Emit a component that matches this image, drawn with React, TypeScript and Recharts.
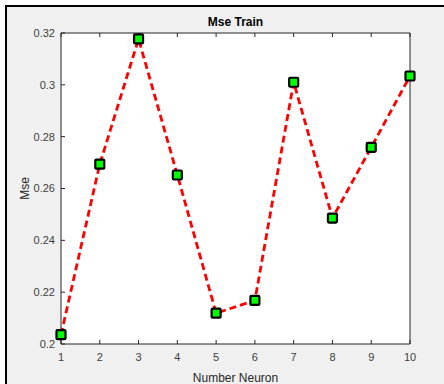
import React from "react";
import { LineChart, Line, XAxis, YAxis, CartesianGrid, Label } from "recharts";

const neurons = [1, 2, 3, 4, 5, 6, 7, 8, 9, 10];
const mseValues = [0.2036, 0.2694, 0.3177, 0.2652, 0.2119, 0.2168, 0.301, 0.2486, 0.2759, 0.3034];
const xTicks = [1, 2, 3, 4, 5, 6, 7, 8, 9, 10];
const yTicks = [0.2, 0.22, 0.24, 0.26, 0.28, 0.3, 0.32];

const data = neurons.map((n, i) => ({ n, mse: mseValues[i] }));

const AX = "#262626";
const FONT = "'Liberation Sans', Arial, Helvetica, sans-serif";

const SquareDot = (props: any) => {
  const { cx, cy, index } = props;
  if (cx == null || cy == null) return null;
  return (
    <rect
      key={`d${index}`}
      x={cx - 4.5}
      y={cy - 4.5}
      width={9}
      height={9}
      rx={1}
      fill="#00ff00"
      stroke="#000"
      strokeWidth={2.2}
    />
  );
};

const fmt = (v: number) => String(Number(v.toFixed(2)));
const blank = () => "";

export default function App() {
  return (
    <div style={{ position: "absolute", left: 0, top: 0, width: 444, height: 384, background: "#fff", overflow: "hidden" }}>
      <div
        style={{
          position: "absolute",
          left: 5,
          top: 5,
          width: 439,
          height: 379,
          background: "#f0f0f0",
          borderTop: "2px solid #000",
          borderLeft: "2px solid #000",
        }}
      />
      <div style={{ position: "absolute", left: 0, top: 0 }}>
        <LineChart
          width={444}
          height={384}
          data={data}
          margin={{ top: 32, right: 33, bottom: 0, left: 21 }}
          style={{ fontFamily: FONT }}
        >
          <CartesianGrid fill="#ffffff" horizontal={false} vertical={false} />
          <XAxis
            dataKey="n"
            type="number"
            domain={[1, 10]}
            ticks={xTicks}
            interval={0}
            height={40}
            stroke={AX}
            tickSize={-4}
            tickMargin={13}
            tick={{ fill: "#404040", fontSize: 11 }}
          >
            <Label value="Number Neuron" position="insideBottom" offset={2} fill={AX} fontSize={12} />
          </XAxis>
          <XAxis
            xAxisId="top"
            dataKey="n"
            type="number"
            domain={[1, 10]}
            ticks={xTicks}
            interval={0}
            orientation="top"
            height={1}
            stroke={AX}
            tickSize={-4}
            tickFormatter={blank}
          />
          <YAxis
            type="number"
            domain={[0.2, 0.32]}
            ticks={yTicks}
            interval={0}
            width={40}
            stroke={AX}
            tickSize={-4}
            tickMargin={10}
            tickFormatter={fmt}
            tick={{ fill: "#404040", fontSize: 11 }}
          >
            <Label value="Mse" angle={-90} position="insideLeft" offset={4} fill={AX} fontSize={12} style={{ textAnchor: "middle" }} />
          </YAxis>
          <YAxis
            yAxisId="right"
            type="number"
            domain={[0.2, 0.32]}
            ticks={yTicks}
            interval={0}
            orientation="right"
            width={1}
            stroke={AX}
            tickSize={-4}
            tickFormatter={blank}
          />
          <text x={235.5} y={26} textAnchor="middle" fontFamily={FONT} fontSize={12} fontWeight="bold" fill="#000">
            Mse Train
          </text>
          <Line
            type="linear"
            dataKey="mse"
            stroke="#ff0000"
            strokeWidth={2.8}
            strokeDasharray="7 4"
            dot={<SquareDot />}
            activeDot={false}
            isAnimationActive={false}
          />
        </LineChart>
      </div>
    </div>
  );
}
